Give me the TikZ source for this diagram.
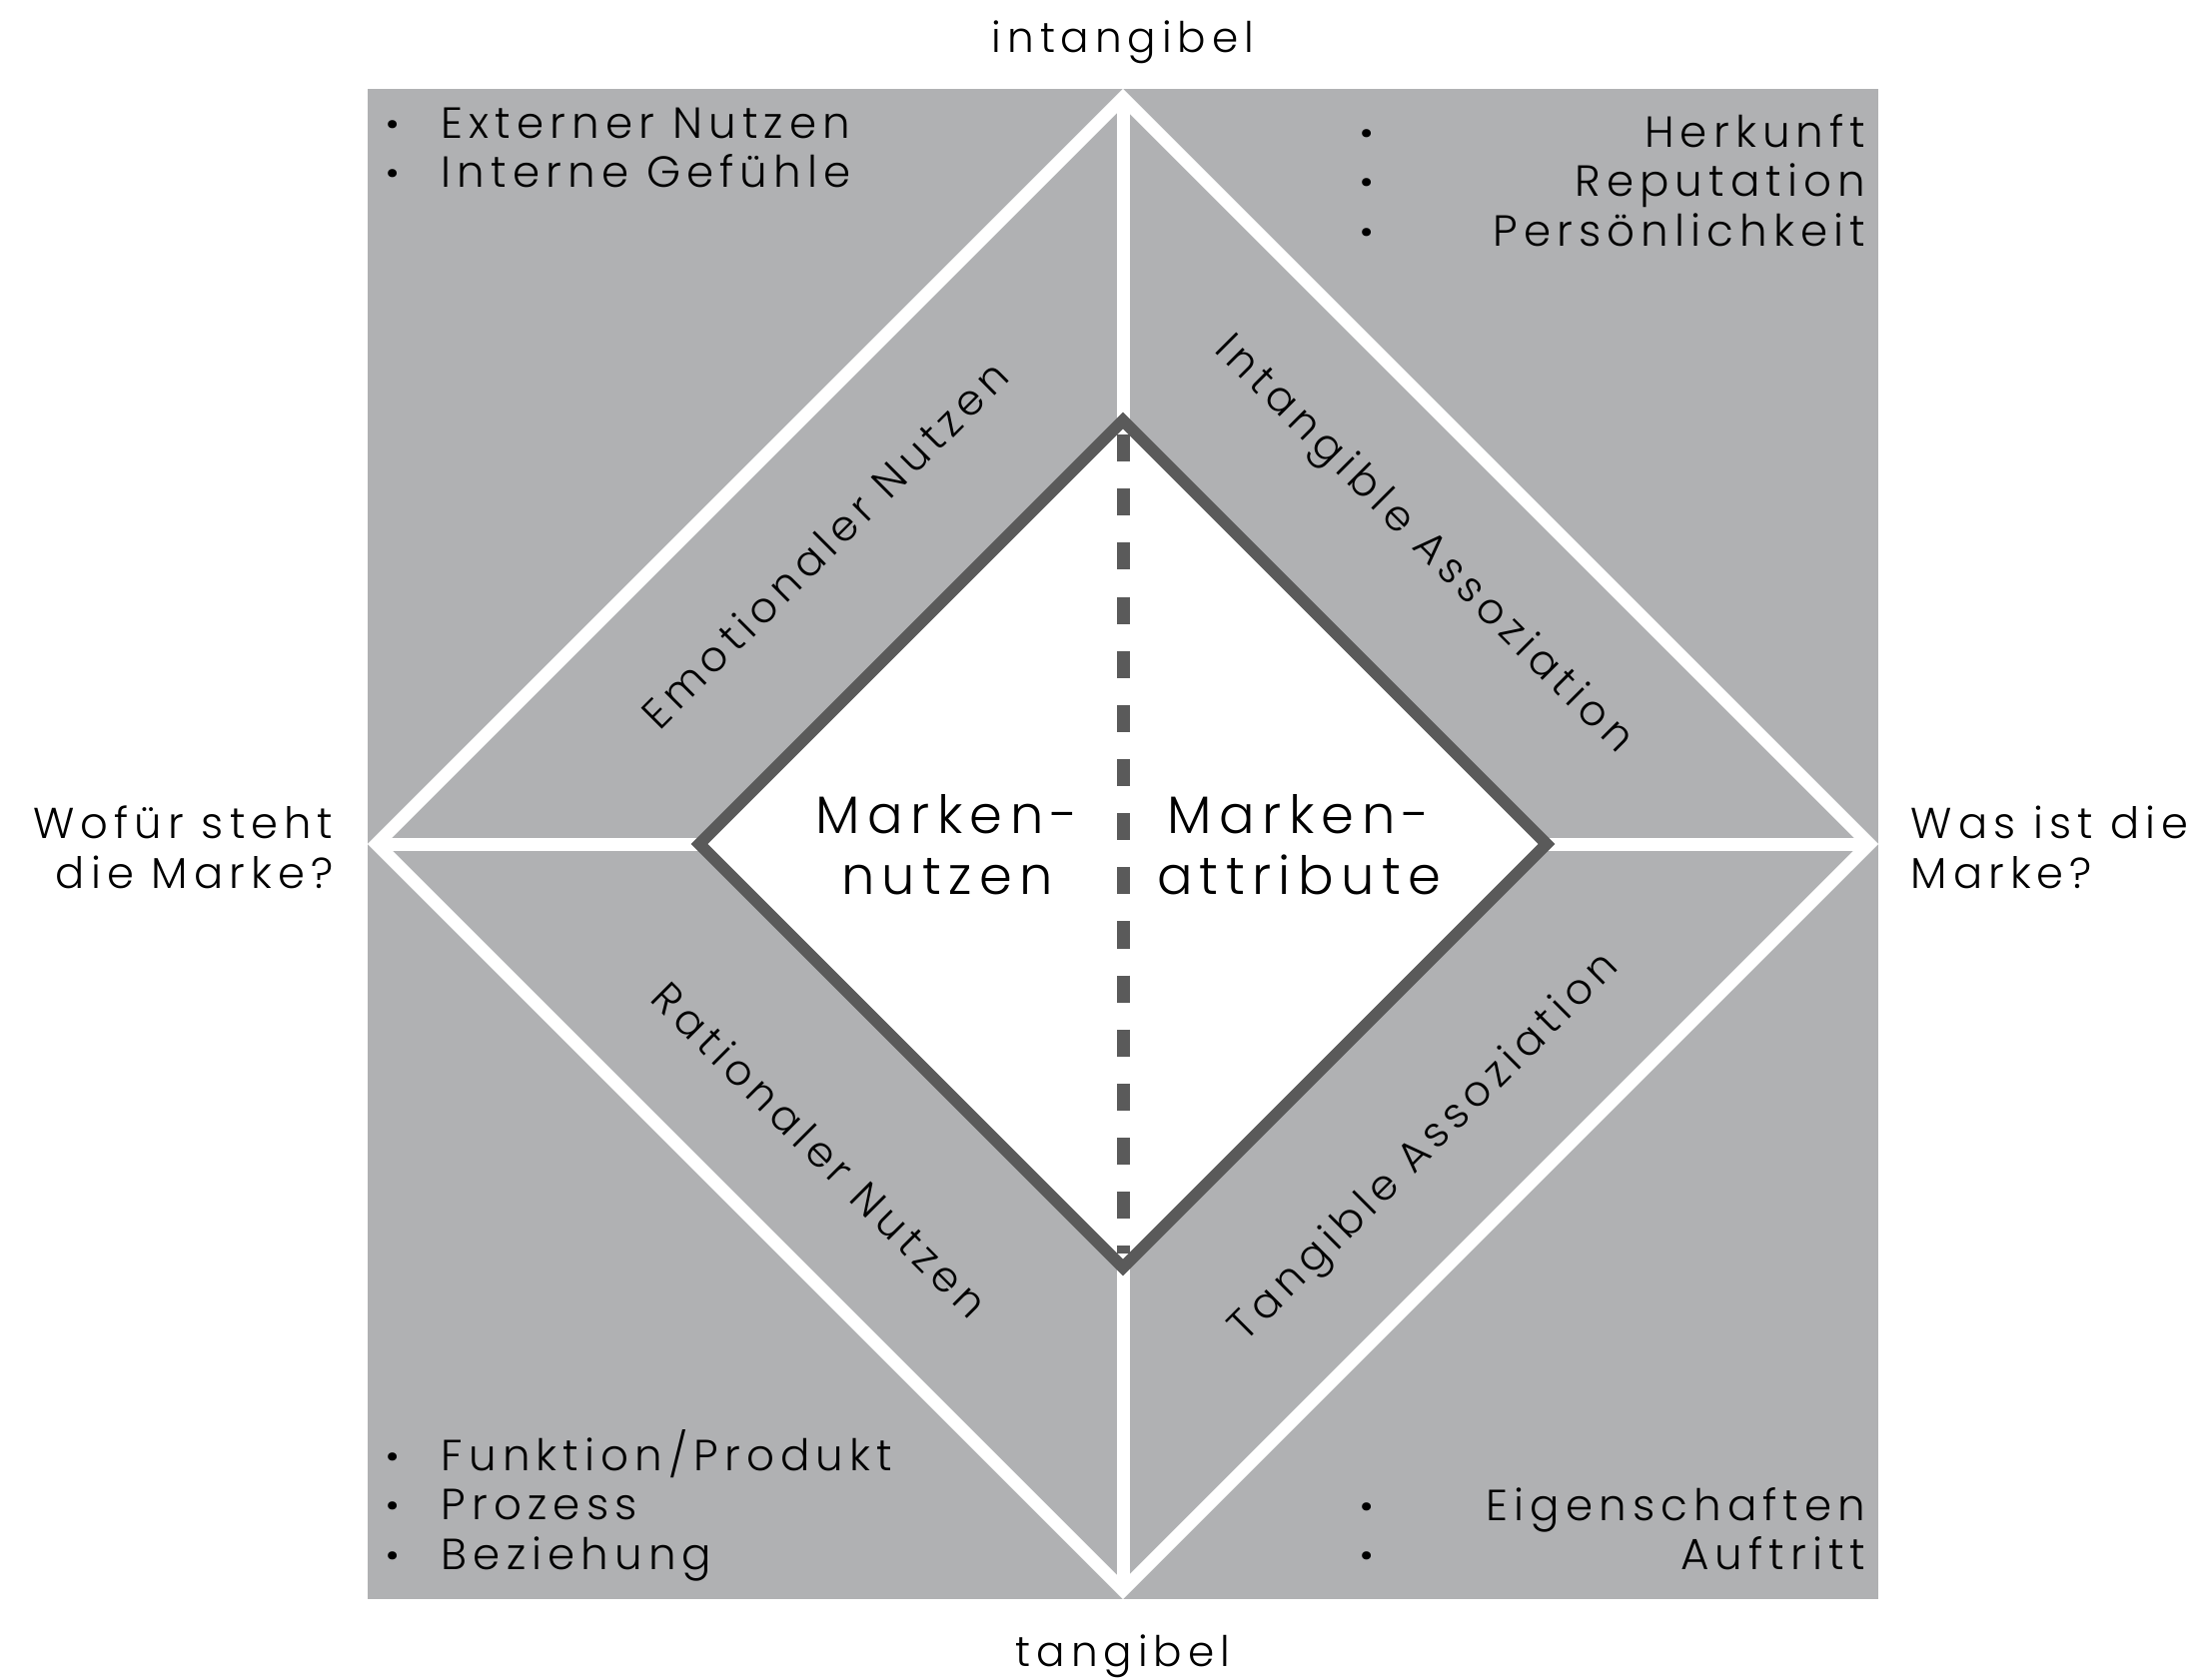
\documentclass[tikz,border=0pt]{standalone}
\usepackage{fontspec}
\setmainfont{Poppins}[LetterSpace=14]
\newfontfamily\thinfont{Poppins Light}[LetterSpace=14]
\newcommand\dotmark{{\rmfamily\bfseries ·}}
\usepackage{tikz}
\usetikzlibrary{positioning}
\definecolor{panelgray}{RGB}{176,177,179}
\definecolor{rimgray}{RGB}{90,90,90}

\begin{document}
\begin{tikzpicture}[x=0.01cm, y=-0.01cm,
  spoke/.style={draw=white, line width=3.7pt},
  rim/.style={draw=rimgray, line width=3.4pt, fill=white},
  splitline/.style={draw=rimgray, line width=3.7pt, dash pattern=on 7.7pt off 7.7pt},
  axis/.style={inner sep=0pt, font=\thinfont\fontsize{12}{14}\selectfont},
  ask/.style={inner sep=0pt, font=\thinfont\fontsize{12.3}{14.2}\selectfont},
  band/.style={inner sep=0pt, font=\thinfont\fontsize{12}{14}\selectfont},
  core/.style={inner sep=0pt, align=center, font=\thinfont\fontsize{15}{17.3}\selectfont},
  items/.style={inner sep=0pt, font=\thinfont\fontsize{12.4}{14.2}\selectfont}]
\useasboundingbox (0,0) rectangle (2202,1681);
\fill[panelgray] (368,89) rectangle (1880,1601); %%
% outer diamond
\coordinate (out-n) at (1124,98);
\coordinate (out-w) at (377,845);
\coordinate (out-e) at (1871,845);
\coordinate (out-s) at (1124,1592);
% inner diamond
\coordinate (in-n) at (1124,421);
\coordinate (in-w) at (700,845);
\coordinate (in-e) at (1548,845);
\coordinate (in-s) at (1124,1269);
\draw[spoke] (out-n) -- (out-e) -- (out-s) -- (out-w) -- cycle;
\draw[spoke] (out-n) -- (in-n);
\draw[spoke] (in-s) -- (out-s);
\draw[spoke] (out-w) -- (in-w);
\draw[spoke] (in-e) -- (out-e);
\draw[rim] (in-n) -- (in-e) -- (in-s) -- (in-w) -- cycle;
\draw[splitline, shorten <=4pt, shorten >=4pt] (in-n) -- (in-s); %%
% axis labels
\node[axis, anchor=base] (intang) at (1124,52) {intangibel};
\node[axis, anchor=base] (tang) at (1124,1668) {tangibel};
\node[ask, anchor=east, align=right] (wofuer) at (334,848) {Wofür steht\\die Marke?};
\node[ask, anchor=west, align=left] (wasist) at (1912,848) {Was ist die\\Marke?};
% centre
\node[core] (nutzen) at (948,846) {Marken-\\nutzen};
\node[core] (attrib) at (1300,846) {Marken-\\attribute};
% bands
\node[band, rotate=45] (emo) at (825,545) {Emotionaler Nutzen};
\node[band, rotate=-45] (intass) at (1424,546) {Intangible Assoziation};
\node[band, rotate=-45] (rat) at (821,1151) {Rationaler Nutzen};
\node[band, rotate=45] (tanass) at (1427,1150) {Tangible Assoziation};
% corner lists
\node[items, anchor=base west] (nw-list) at (386,138)
  {\begin{tabular}[t]{@{}l@{\hspace{0.42cm}}l@{}}\dotmark&Externer Nutzen\\\dotmark&Interne Gefühle\end{tabular}};
\node[items, anchor=base east] (ne-list) at (1868,147)
  {\begin{tabular*}{5.06cm}[t]{@{}l@{\extracolsep{\fill}}r@{}}\dotmark&Herkunft\\\dotmark&Reputation\\\dotmark&Persönlichkeit\end{tabular*}};
\node[items, anchor=base west] (sw-list) at (386,1472)
  {\begin{tabular}[t]{@{}l@{\hspace{0.42cm}}l@{}}\dotmark&Funktion/Produkt\\\dotmark&Prozess\\\dotmark&Beziehung\end{tabular}};
\node[items, anchor=base east] (se-list) at (1868,1522)
  {\begin{tabular*}{5.06cm}[t]{@{}l@{\extracolsep{\fill}}r@{}}\dotmark&Eigenschaften\\\dotmark&Auftritt\end{tabular*}};
\end{tikzpicture}
\end{document}
